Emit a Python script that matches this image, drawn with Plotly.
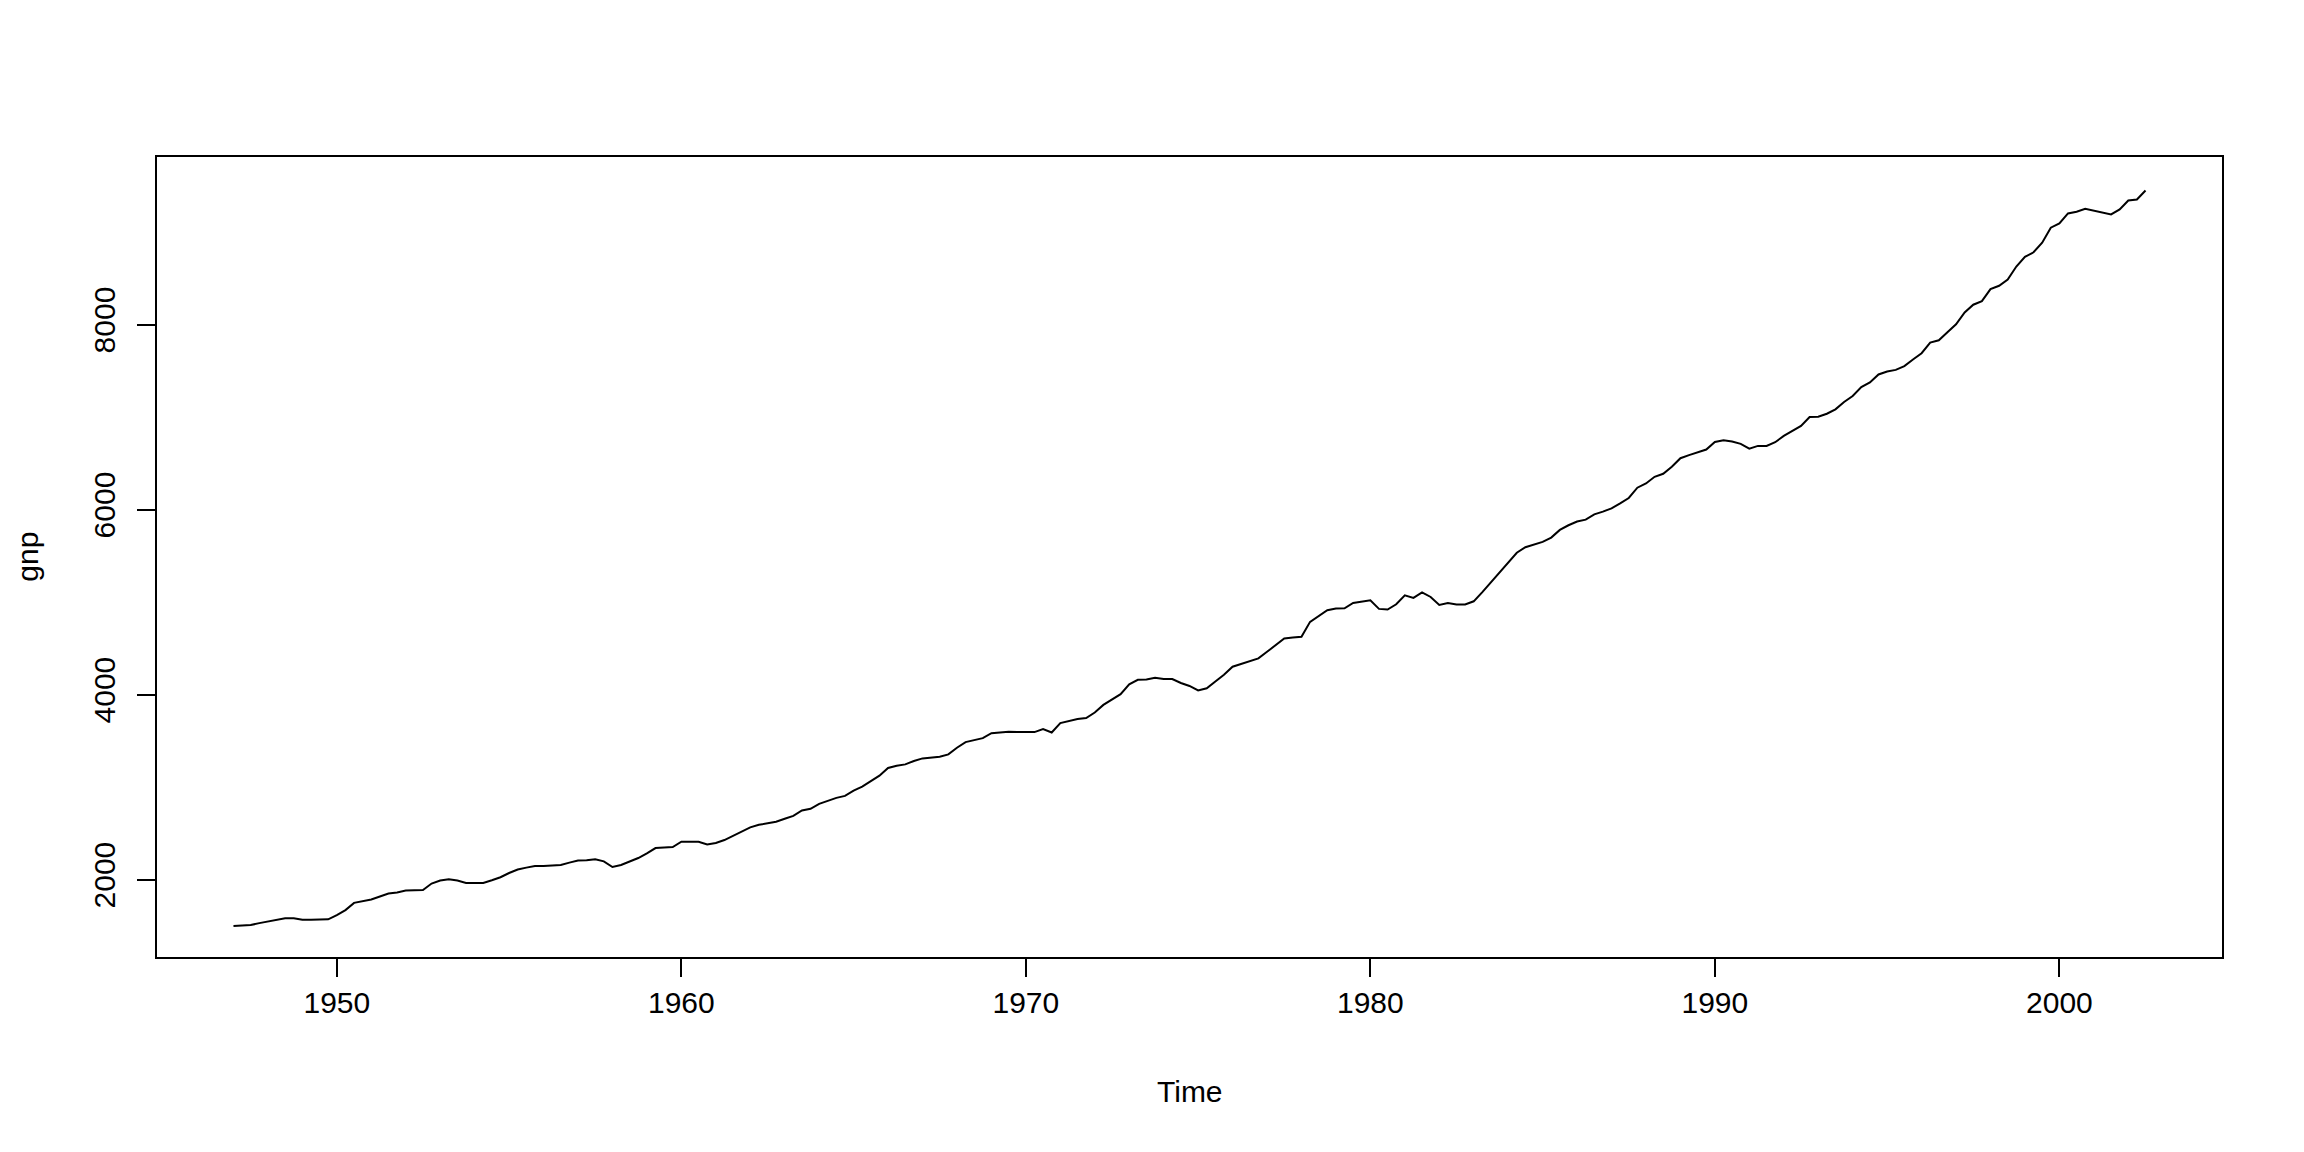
import plotly.graph_objects as go

# Quarterly series, starting 1947 Q1 (frequency 4)
start_year = 1947
frequency = 4
gnp = [
    1497, 1505, 1508, 1529, 1548, 1572, 1583, 1583, 1565, 1565, 1565, 1570,
    1616, 1670, 1748, 1766, 1785, 1817, 1849, 1860, 1881, 1885, 1888, 1957,
    1989, 2003, 1989, 1964, 1963, 1963, 1992, 2025, 2071, 2108, 2129, 2146,
    2146, 2150, 2157, 2183, 2205, 2208, 2219, 2197, 2136, 2157, 2194, 2233,
    2283, 2341, 2348, 2352, 2409, 2409, 2409, 2380, 2395, 2427, 2470, 2517,
    2564, 2592, 2610, 2625, 2657, 2689, 2747, 2765, 2819, 2851, 2883, 2905,
    2962, 3005, 3062, 3123, 3206, 3231, 3245, 3282, 3310, 3320, 3328, 3353,
    3425, 3486, 3511, 3529, 3583, 3590, 3597, 3594, 3590, 3594, 3626, 3590,
    3691, 3716, 3735, 3746, 3806, 3888, 3942, 4004, 4111, 4160, 4164, 4182,
    4168, 4168, 4125, 4093, 4044, 4068, 4142, 4214, 4301, 4333, 4358, 4391,
    4463, 4535, 4606, 4617, 4624, 4786, 4850, 4911, 4930, 4933, 4990, 5005,
    5019, 4926, 4919, 4976, 5073, 5045, 5105, 5055, 4968, 4990, 4973, 4973,
    5008, 5108, 5216, 5317, 5428, 5533, 5593, 5622, 5651, 5697, 5780, 5830,
    5870, 5891, 5948, 5977, 6013, 6067, 6125, 6236, 6282, 6354, 6387, 6462,
    6555, 6588, 6616, 6649, 6731, 6750, 6735, 6710, 6659, 6688, 6688, 6728,
    6796, 6847, 6904, 7000, 7004, 7036, 7083, 7162, 7227, 7324, 7374, 7460,
    7492, 7510, 7550, 7622, 7690, 7805, 7830, 7916, 8002, 8131, 8214, 8253,
    8382, 8419, 8487, 8627, 8731, 8781, 8885, 9047, 9093, 9201, 9219, 9251,
    9233, 9208, 9190, 9244, 9341, 9352, 9449,
]
x_ticks = [1950, 1960, 1970, 1980, 1990, 2000]
y_ticks = [2000, 4000, 6000, 8000]

time = [start_year + i / frequency for i in range(len(gnp))]

FONT = "Liberation Sans, Arial, sans-serif"

fig = go.Figure()
fig.add_trace(go.Scatter(
    x=time, y=gnp, mode="lines",
    line=dict(color="black", width=2),
    hoverinfo="x+y", showlegend=False,
))

axis_common = dict(
    showgrid=False, zeroline=False,
    showline=True, linecolor="black", linewidth=2, mirror=True,
    ticks="outside", ticklen=18, tickwidth=2, tickcolor="black",
    tickfont=dict(family=FONT, size=30, color="black"),
)

fig.update_layout(
    width=2304, height=1152,
    margin=dict(l=149, r=90, t=149, b=203),
    paper_bgcolor="white", plot_bgcolor="white",
    font=dict(family=FONT, size=30, color="black"),
    xaxis=dict(range=[1944.78, 2004.72], tickvals=x_ticks,
               ticktext=[str(v) for v in x_ticks],
               ticklabelstandoff=0, **axis_common),
    yaxis=dict(range=[1163, 9811], tickvals=y_ticks,
               ticktext=[str(v) for v in y_ticks], tickangle=-90,
               ticklabelstandoff=10, **axis_common),
    annotations=[
        dict(text="Time", xref="paper", yref="paper", x=0.5, y=-0.1677,
             xanchor="center", yanchor="middle", showarrow=False,
             font=dict(family=FONT, size=30, color="black")),
        dict(text="gnp", xref="paper", yref="paper", x=-0.0629, y=0.5006,
             xanchor="center", yanchor="middle", showarrow=False, textangle=-90,
             font=dict(family=FONT, size=30, color="black")),
    ],
)

fig.write_html("out.html")
